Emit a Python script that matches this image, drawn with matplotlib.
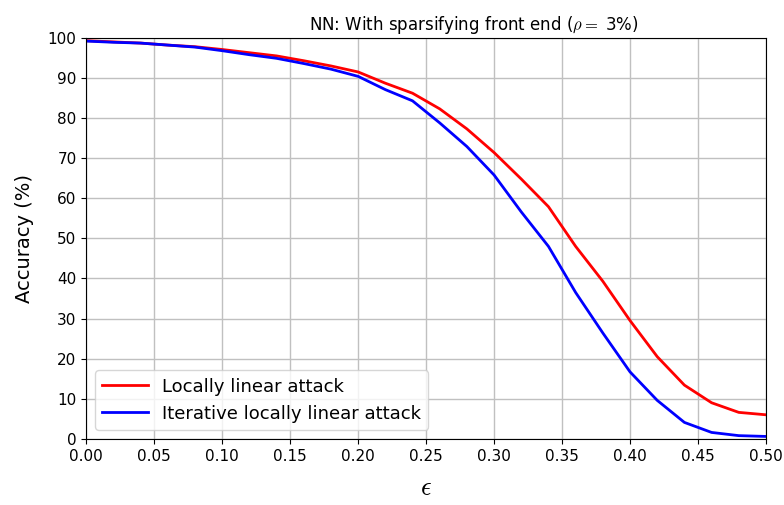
import matplotlib
matplotlib.use("Agg")
import matplotlib.pyplot as plt
import numpy as np

# epsilon values and accuracy (%)
eps = [0.00, 0.02, 0.04, 0.06, 0.08, 0.10, 0.12, 0.14, 0.16, 0.18, 0.20,
       0.22, 0.24, 0.26, 0.28, 0.30, 0.32, 0.34, 0.36, 0.38, 0.40,
       0.42, 0.44, 0.46, 0.48, 0.50]
acc_ll = [99.3, 99.0, 98.7, 98.2, 97.8, 97.1, 96.3, 95.5, 94.3, 93.0, 91.5,
          88.7, 86.2, 82.3, 77.3, 71.4, 64.8, 57.9, 48.0, 39.3, 29.5,
          20.5, 13.4, 9.0, 6.6, 6.0]
acc_ill = [99.2, 98.9, 98.7, 98.2, 97.7, 96.8, 95.8, 94.9, 93.6, 92.2, 90.4,
           87.1, 84.3, 78.8, 72.9, 65.8, 56.6, 48.0, 36.5, 26.4, 16.7,
           9.6, 4.1, 1.6, 0.8, 0.6]

plt.rcParams['mathtext.fontset'] = 'cm'

fig, ax = plt.subplots(figsize=(7.84, 5.05), dpi=100)
fig.subplots_adjust(left=0.11, right=0.977, top=0.925, bottom=0.131)

ax.plot(eps, acc_ll, color='red', lw=2, label='Locally linear attack')
ax.plot(eps, acc_ill, color='blue', lw=2, label='Iterative locally linear attack')

ax.set_xlim(0, 0.5)
ax.set_ylim(0, 100)
ax.set_xticks(np.arange(0, 0.501, 0.05))
ax.set_yticks(np.arange(0, 101, 10))
ax.xaxis.set_major_formatter(matplotlib.ticker.FormatStrFormatter('%.2f'))
ax.tick_params(labelsize=11)
ax.grid(True, color='#c0c0c0', lw=1.0)

ax.set_title(r'NN: With sparsifying front end ($\rho=$ 3%)', fontsize=12, x=0.57)
ax.set_ylabel('Accuracy (%)', fontsize=14, labelpad=10)
ax.set_xlabel(r'$\epsilon$', fontsize=19, labelpad=8)

ax.legend(loc='lower left', fontsize=13, handlelength=2.5)

fig.savefig('out.png', dpi=100)
